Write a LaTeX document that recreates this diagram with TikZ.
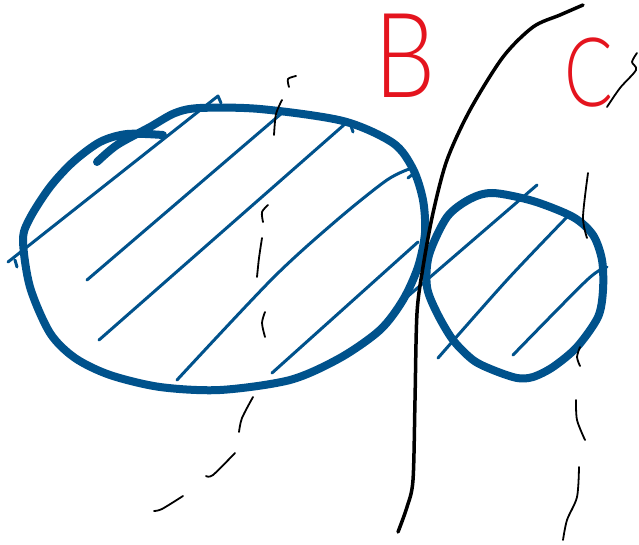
\documentclass[tikz,border=0pt]{standalone}
\usepackage{fontspec}
\setmainfont{Liberation Sans}
\newfontfamily\sketchfont{Lato Light}
\definecolor{inkblue}{RGB}{0,82,140}
\definecolor{inkred}{RGB}{228,20,30}
\tikzset{
  outline/.style={draw=inkblue, line width=8pt, line cap=round, line join=round},
  hatch/.style={draw=inkblue, line width=3pt, line cap=round, line join=round},
  divider/.style={draw=black, line width=3.5pt, line cap=round},
  dashmark/.style={draw=black, line width=1.8pt, line cap=round},
  letter/.style={text=inkred, inner sep=0pt, anchor=base, font=\sketchfont}
}
\begin{document}
\begin{tikzpicture}[x=1pt,y=-1pt]
\useasboundingbox (0,0) rectangle (639,545);
\fill[white] (0,0) rectangle (639,545);

% hatching of the big blob
\draw[hatch] (8,262) -- (218,96) -- (221,103);
\draw[hatch] (15,260) -- (17,267);
\draw[hatch] (87,280) -- (282,113);
\draw[hatch] (99,340) -- (345,124);
\draw[hatch] (351,126) -- (353,132);
\draw[hatch] plot[smooth] coordinates {(177,380) (273,278) (337,220) (387,180) (412,168)};
\draw[hatch] (408,178) -- (413,174);
\draw[hatch] (272,373) -- (418,242);

% hatching of the small blob
\draw[hatch] (407,297) -- (537,185);
\draw[hatch] plot[smooth] coordinates {(438,358) (507,280) (567,217)};
\draw[hatch] plot[smooth] coordinates {(513,355) (587,280) (607,267)};

% big blob outline
\draw[outline] plot[smooth] coordinates {(97,162) (117,145) (150,127) (175,113) (200,108) (260,109) (343,121) (393,143) (413,169) (423,200) (425,233) (418,267) (403,300) (380,330) (340,358) (290,380) (220,390) (160,387) (110,375) (75,358) (50,333) (30,287) (23,240) (30,218) (50,187) (73,162) (100,142) (127,134) (163,135)};

% small blob outline
\draw[outline] plot[smooth cycle] coordinates {(493,193) (533,201) (573,217) (593,235) (602,260) (603,290) (598,317) (577,347) (553,367) (533,377) (517,378) (493,370) (473,360) (453,340) (437,313) (427,287) (429,255) (447,217) (470,199)};

% divider
\draw[divider] plot[smooth] coordinates {(583,5) (560,15) (533,27) (503,57) (470,110) (447,160) (433,213) (423,267) (417,313) (415,400) (413,480) (407,507) (398,532)};

% left dashed guide
\draw[dashmark] plot[smooth] coordinates {(296,76) (288,79) (289,87)};
\draw[dashmark] plot[smooth] coordinates {(282,100) (276,114) (274,135)};
\draw[dashmark] plot[smooth] coordinates {(268,205) (262,212) (263,222)};
\draw[dashmark] plot[smooth] coordinates {(262,238) (259,258) (257,277)};
\draw[dashmark] plot[smooth] coordinates {(265,312) (262,323) (265,337)};
\draw[dashmark] plot[smooth] coordinates {(253,397) (242,418) (239,432)};
\draw[dashmark] plot[smooth] coordinates {(235,453) (213,475) (206,476)};
\draw[dashmark] plot[smooth] coordinates {(183,496) (162,509) (154,511)};

% right dashed guide
\draw[dashmark] plot[smooth] coordinates {(637,53) (632,62) (636,70) (620,88) (607,107)};
\draw[dashmark] plot[smooth] coordinates {(588,173) (583,217) (587,238)};
\draw[dashmark] plot[smooth] coordinates {(580,347) (577,357) (580,366)};
\draw[dashmark] plot[smooth] coordinates {(576,400) (577,420) (585,440)};
\draw[dashmark] plot[smooth] coordinates {(579,467) (577,497) (567,520) (563,540)};

% letters
\node[letter, xscale=0.82] (B) at (405,98) {\fontsize{118}{118}\selectfont B};
\node[letter, xscale=0.75] (C) at (589,107) {\fontsize{96}{96}\selectfont C};
\end{tikzpicture}
\end{document}
